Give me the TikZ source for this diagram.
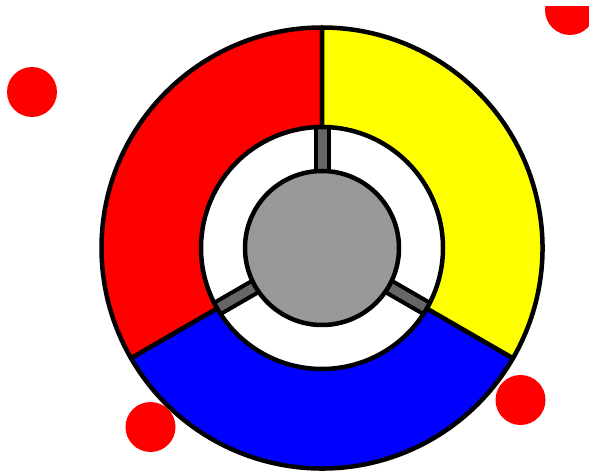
\documentclass[tikz,border=0pt]{standalone}
\definecolor{ringred}{HTML}{FF0000}
\definecolor{ringyellow}{HTML}{FFFF00}
\definecolor{ringblue}{HTML}{0000FF}
\definecolor{hubgray}{HTML}{999999}
\definecolor{spokegray}{HTML}{666666}
\tikzset{
  sector/.style={draw=black, line width=4.5pt, line join=round},
  spokebar/.style={draw=black, fill=spokegray, line width=4pt},
  hub/.style={draw=black, fill=hubgray, line width=4.5pt},
  dot/.style={fill=ringred, draw=none}
}
\begin{document}
\begin{tikzpicture}[x=1pt,y=1pt]
\useasboundingbox (0,0) rectangle (589,471);
% red dots
\fill[dot] (32,379) circle[radius=25];
\fill[dot] (150.5,44) circle[radius=25];
\fill[dot] (520.5,71) circle[radius=25];
\begin{scope}
  \clip (0,0) rectangle (589,464);
  \fill[dot] (570,461) circle[radius=25];
\end{scope}
\begin{scope}[shift={(322,223)}]
  % spokes
  \foreach \a in {90,210,330}{
    \filldraw[spokebar, rotate=\a] (70,-6.5) rectangle (124,6.5);
  }
  % ring sectors
  \filldraw[sector, fill=ringred] (90:220.5) arc[start angle=90, end angle=210, radius=220.5]
    -- (210:121) arc[start angle=210, end angle=90, radius=121] -- cycle;
  \filldraw[sector, fill=ringblue] (210:220.5) arc[start angle=210, end angle=330, radius=220.5]
    -- (330:121) arc[start angle=330, end angle=210, radius=121] -- cycle;
  \filldraw[sector, fill=ringyellow] (-30:220.5) arc[start angle=-30, end angle=90, radius=220.5]
    -- (90:121) arc[start angle=90, end angle=-30, radius=121] -- cycle;
  % hub
  \filldraw[hub] (0,0) circle[radius=77];
\end{scope}
\end{tikzpicture}
\end{document}
